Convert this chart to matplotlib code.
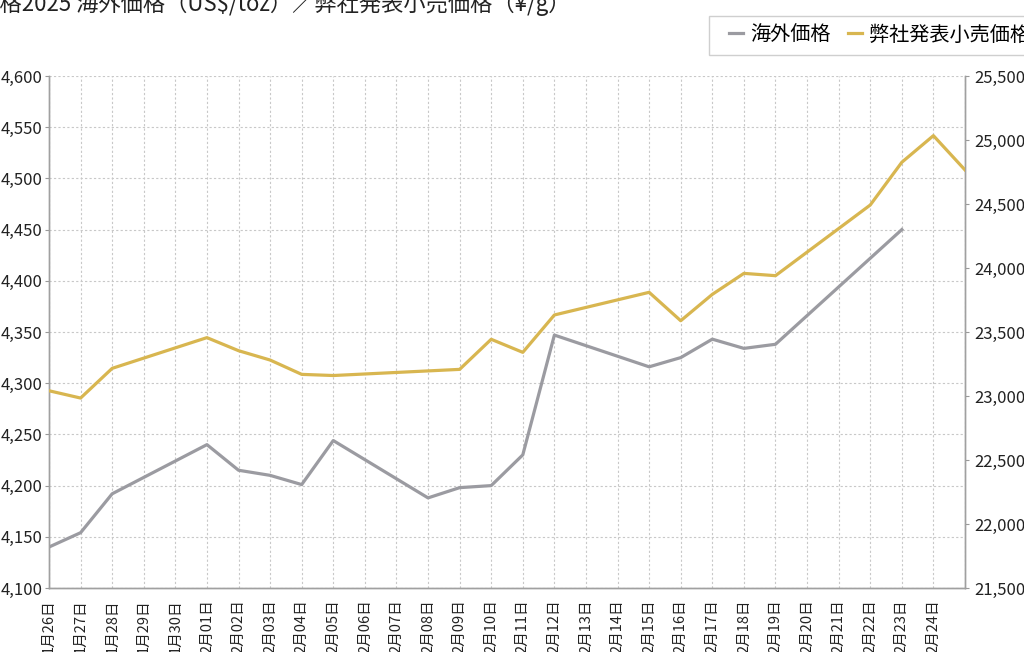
import matplotlib
matplotlib.use('Agg')
import matplotlib.pyplot as plt
from matplotlib.patches import Rectangle
import numpy as np

plt.rcParams['font.family'] = ['Noto Sans CJK JP', 'DejaVu Sans']

dates = ['1月26日', '1月27日', '1月28日', '1月29日', '1月30日',
         '2月01日', '2月02日', '2月03日', '2月04日', '2月05日', '2月06日',
         '2月07日', '2月08日', '2月09日', '2月10日', '2月11日', '2月12日',
         '2月13日', '2月14日', '2月15日', '2月16日', '2月17日', '2月18日',
         '2月19日', '2月20日', '2月21日', '2月22日', '2月23日', '2月24日',
         '2月25日']

# overseas price (US$/toz), left axis; None = no quote that day
overseas = [4140, 4154, 4192, None, None, 4240, 4215, 4210, 4201, 4244,
            None, None, 4188, 4198, 4200, 4230, 4347, None, None, 4316,
            4325, 4343, 4334, 4338, None, None, None, 4450, None, None]

# retail price (yen/g), right axis
retail = [23041, 22984, 23216, None, None, 23456, 23354, 23281, 23169, 23160,
          None, None, None, 23208, 23443, 23341, 23633, None, None, 23810,
          23588, 23794, 23958, 23940, None, None, 24492, 24826, 25034, 24766]

GRAY = '#9b9ba1'
GOLD = '#d8b650'

fig = plt.figure(figsize=(10.24, 6.52), dpi=100)
ax = fig.add_axes([49/1024, 64/652, 916/1024, 512/652])
ax2 = ax.twinx()

x = np.arange(len(dates))
ov = np.array([np.nan if v is None else v for v in overseas], dtype=float)
rt = np.array([np.nan if v is None else v for v in retail], dtype=float)
m1 = ~np.isnan(ov)
m2 = ~np.isnan(rt)

l1, = ax.plot(x[m1], ov[m1], color=GRAY, lw=2.3, label='海外価格', zorder=3)
l2, = ax2.plot(x[m2], rt[m2], color=GOLD, lw=2.3, label='弊社発表小売価格', zorder=3)

ax.set_xlim(0, len(dates) - 1)
ax.set_ylim(4100, 4600)
ax2.set_ylim(21500, 25500)
ax.set_yticks(np.arange(4100, 4601, 50))
ax2.set_yticks(np.arange(21500, 25501, 500))
fmt = matplotlib.ticker.FuncFormatter(lambda v, p: f'{int(v):,}')
ax.yaxis.set_major_formatter(fmt)
ax2.yaxis.set_major_formatter(fmt)

ax.set_xticks(x)
ax.set_xticklabels(dates[:-1] + [''], rotation=90, fontsize=10.5, color='#222222')
ax.tick_params(axis='x', length=0, pad=8)
ax.tick_params(axis='y', length=3, width=0.8, color='#999999', labelsize=12,
               labelcolor='#222222', pad=1.5)
ax2.tick_params(axis='y', length=3, width=0.8, color='#999999', labelsize=12,
                labelcolor='#222222', pad=4)

ax.grid(True, color='#c8c8c8', linestyle=(0, (2, 2)), lw=0.8)
for a in (ax, ax2):
    a.spines['top'].set_visible(False)
    for s in ('left', 'right', 'bottom'):
        a.spines[s].set_color('#a0a0a0')
        a.spines[s].set_linewidth(1)

# title (partially off the canvas, as in the original)
fig.text(-45/1024, 1 - 11/652, '金価格2025 海外価格（US$/toz）／弊社発表小売価格（¥/g）',
         fontsize=16, color='#222222', va='baseline', ha='left')

# legend box
fig.patches.append(Rectangle((709/1024, 1 - 55/652), 400/1024, 39/652,
                             transform=fig.transFigure, facecolor='white',
                             edgecolor='#cfcfcf', lw=1))
fig.legend(handles=[l1, l2], loc='center left', bbox_to_anchor=(729/1024, 1 - 35/652),
           ncol=2, frameon=False, fontsize=14.5, handlelength=0.7, handletextpad=0.35,
           columnspacing=0.85, borderpad=0, borderaxespad=0)

plt.savefig('out.png')
